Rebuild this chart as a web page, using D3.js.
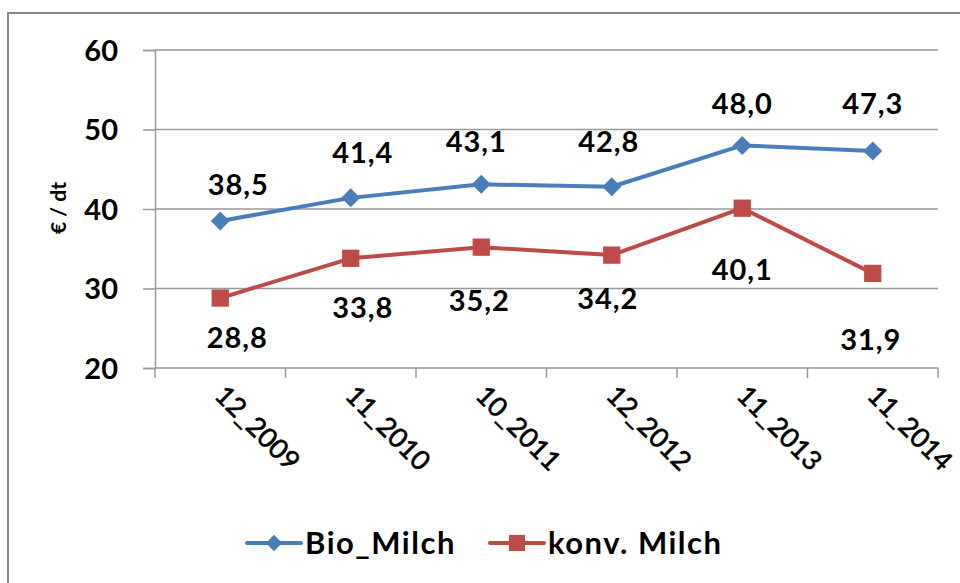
<!DOCTYPE html>
<html>
<head>
<meta charset="utf-8">
<script src="https://cdn.jsdelivr.net/npm/d3@7"></script>
<style>
  body { margin: 0; background: #fff; }
  svg text { font-family: Lato, "Open Sans", sans-serif; font-weight: bold; fill: #000; }
</style>
</head>
<body>
<svg id="chart" width="960" height="583"></svg>
<script>
// data
const categories = ["12_2009", "11_2010", "10_2011", "12_2012", "11_2013", "11_2014"];
const bioMilch = [38.5, 41.4, 43.1, 42.8, 48.0, 47.3];
const konvMilch = [28.8, 33.8, 35.2, 34.2, 40.1, 31.9];
const yTicks = [20, 30, 40, 50, 60];

// label nudges (px) so the value labels sit where they do in the original
const bioLabelDx = [18, 12, -5, -3, 0, 0];
const bioLabelDy = [-36, -45, -43, -45, -42, -47];
const konvLabelDx = [17, 12, -2, -4, 0, -2];
const konvLabelDy = [40, 49, 53, 43, 61, 66];

const svg = d3.select("#chart");
const margin = {left: 155, right: 22, top: 50, bottom: 215};
const width = 960, height = 583;

// outer frame
svg.append("rect")
    .attr("x", 8).attr("y", 13)
    .attr("width", 980).attr("height", 600)
    .attr("fill", "none")
    .attr("stroke", "#868686")
    .attr("stroke-width", 2);

const x = d3.scaleBand()
    .domain(categories)
    .range([margin.left, width - margin.right]);

const y = d3.scaleLinear()
    .domain([20, 60])
    .range([height - margin.bottom, margin.top]);

const cx = d => x(d) + x.bandwidth() / 2;

// gridlines
svg.append("g")
    .selectAll("line")
    .data(yTicks.filter(t => t > 20))
    .enter().append("line")
        .attr("x1", margin.left).attr("x2", width - margin.right)
        .attr("y1", d => y(d)).attr("y2", d => y(d))
        .attr("stroke", "#999")
        .attr("stroke-width", 1.5);

// y axis
const yAxis = svg.append("g")
    .attr("transform", `translate(${margin.left},0)`)
    .call(d3.axisLeft(y).tickValues(yTicks).tickSize(12).tickPadding(25));
yAxis.select(".domain").attr("stroke", "#999").attr("stroke-width", 1.5);
yAxis.selectAll(".tick line").attr("stroke", "#999").attr("stroke-width", 1.5);
yAxis.selectAll(".tick text")
    .style("font-size", "29px")
    .attr("dy", "0.36em");

// x axis with ticks between categories
const xAxisG = svg.append("g")
    .attr("transform", `translate(0,${y(20)})`);
xAxisG.append("line")
    .attr("x1", margin.left).attr("x2", width - margin.right)
    .attr("stroke", "#999").attr("stroke-width", 1.5);
const bounds = categories.map(c => x(c)).concat([x(categories[categories.length - 1]) + x.bandwidth()]);
xAxisG.selectAll(".sep")
    .data(bounds)
    .enter().append("line")
        .attr("class", "sep")
        .attr("x1", d => d).attr("x2", d => d)
        .attr("y1", 0).attr("y2", 10)
        .attr("stroke", "#999").attr("stroke-width", 1.5);

xAxisG.selectAll(".xlabel")
    .data(categories)
    .enter().append("text")
        .attr("class", "xlabel")
        .attr("transform", d => `translate(${cx(d) - 7},${29}) rotate(45)`)
        .style("font-size", "27px")
        .style("font-weight", "normal")
        .style("stroke", "#000").style("stroke-width", 0.6)
        .attr("text-anchor", "start")
        .text(d => d);

// y axis title
svg.append("text")
    .attr("transform", `translate(66,208) rotate(-90)`)
    .attr("text-anchor", "middle")
    .style("font-size", "21px")
    .text("€ / dt");

const line = d3.line()
    .x((d, i) => cx(categories[i]))
    .y(d => y(d));

const blue = "#4A7EBB", red = "#BE4B48";

svg.append("path")
    .datum(bioMilch)
    .attr("d", line)
    .attr("fill", "none")
    .attr("stroke", blue)
    .attr("stroke-width", 4)
    .attr("stroke-linejoin", "round");

svg.append("path")
    .datum(konvMilch)
    .attr("d", line)
    .attr("fill", "none")
    .attr("stroke", red)
    .attr("stroke-width", 4)
    .attr("stroke-linejoin", "round");

const diamond = d3.symbol().type(d3.symbolDiamond2).size(230);
const square = d3.symbol().type(d3.symbolSquare2).size(380);
const legendDiamond = d3.symbol().type(d3.symbolDiamond2).size(170);
const legendSquare = d3.symbol().type(d3.symbolSquare2).size(330);

svg.append("g").selectAll("path")
    .data(bioMilch)
    .enter().append("path")
        .attr("d", diamond)
        .attr("transform", (d, i) => `translate(${cx(categories[i])},${y(d)})`)
        .attr("fill", blue);

svg.append("g").selectAll("path")
    .data(konvMilch)
    .enter().append("path")
        .attr("d", square)
        .attr("transform", (d, i) => `translate(${cx(categories[i])},${y(d)})`)
        .attr("fill", red);

const fmt = v => v.toFixed(1).replace(".", ",");

svg.append("g").selectAll("text")
    .data(bioMilch)
    .enter().append("text")
        .attr("x", (d, i) => cx(categories[i]) + bioLabelDx[i])
        .attr("y", (d, i) => y(d) + bioLabelDy[i])
        .attr("dy", "0.36em")
        .attr("text-anchor", "middle")
        .style("font-size", "29px")
        .style("letter-spacing", "1px")
        .text(fmt);

svg.append("g").selectAll("text")
    .data(konvMilch)
    .enter().append("text")
        .attr("x", (d, i) => cx(categories[i]) + konvLabelDx[i])
        .attr("y", (d, i) => y(d) + konvLabelDy[i])
        .attr("dy", "0.36em")
        .attr("text-anchor", "middle")
        .style("font-size", "29px")
        .style("letter-spacing", "1px")
        .text(fmt);

// legend
const legendItems = [
    {name: "Bio_Milch", color: blue, sym: legendDiamond, x: 247},
    {name: "konv. Milch", color: red, sym: legendSquare, x: 490}
];
const legend = svg.append("g").attr("transform", "translate(0,543)");
legendItems.forEach(it => {
    legend.append("line")
        .attr("x1", it.x).attr("x2", it.x + 54)
        .attr("stroke", it.color).attr("stroke-width", 4)
        .attr("stroke-linecap", "round");
    legend.append("path")
        .attr("d", it.sym)
        .attr("transform", `translate(${it.x + 27},0)`)
        .attr("fill", it.color);
    legend.append("text")
        .attr("x", it.x + 58)
        .attr("dy", "0.36em")
        .style("font-size", "31px")
        .style("letter-spacing", "1.5px")
        .text(it.name);
});
</script>
</body>
</html>
